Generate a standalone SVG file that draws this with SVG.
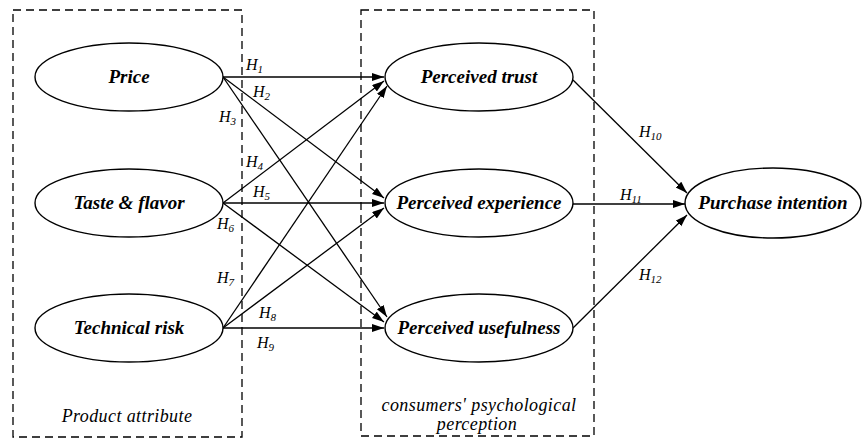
<svg xmlns="http://www.w3.org/2000/svg" width="863" height="439" viewBox="0 0 863 439">
<style>
.box{fill:none;stroke:#000;stroke-width:1.3;stroke-dasharray:8,5}
.node{fill:#fff;stroke:#000;stroke-width:1.4}
.nl{font-family:"Liberation Serif","Times New Roman",Times,"DejaVu Serif",serif;font-style:italic;font-weight:bold;font-size:19px;text-anchor:middle;fill:#000}
.gl{font-family:"Liberation Serif","Times New Roman",Times,"DejaVu Serif",serif;font-style:italic;font-size:18px;text-anchor:middle;fill:#000;letter-spacing:0.4px}
.hl{font-family:"Liberation Serif","Times New Roman",Times,"DejaVu Serif",serif;font-style:italic;font-size:16px;fill:#000}
.hl tspan{font-size:11px}
.edge{stroke:#000;stroke-width:1.3;fill:none;marker-end:url(#arr)}
</style>
<defs>
<marker id="arr" markerUnits="userSpaceOnUse" markerWidth="13" markerHeight="9" refX="12" refY="4" orient="auto">
<path d="M0,0 L12,4 L0,8 z" fill="#000"/>
</marker>
</defs>
<rect width="863" height="439" fill="#fff"/>
<g id="group-product">
<rect class="box" x="13" y="10" width="229" height="427"/>
<text class="gl" x="127" y="422">Product attribute</text>
</g>
<g id="group-perception">
<rect class="box" x="361" y="10" width="233" height="426"/>
<text class="gl" x="479" y="411">consumers' psychological</text>
<text class="gl" x="477" y="430">perception</text>
</g>
<g id="connectors">
<line class="edge" x1="223" y1="77" x2="384" y2="77"/>
<line class="edge" x1="223" y1="77" x2="384" y2="198"/>
<line class="edge" x1="223" y1="77" x2="387" y2="317"/>
<line class="edge" x1="223" y1="203" x2="384" y2="81"/>
<line class="edge" x1="223" y1="203" x2="384" y2="203"/>
<line class="edge" x1="223" y1="203" x2="384" y2="322"/>
<line class="edge" x1="223" y1="328" x2="387" y2="86"/>
<line class="edge" x1="223" y1="328" x2="384" y2="208"/>
<line class="edge" x1="223" y1="328" x2="384" y2="328"/>
<line class="edge" x1="573" y1="80" x2="687" y2="193"/>
<line class="edge" x1="573" y1="204" x2="685" y2="204"/>
<line class="edge" x1="573" y1="328" x2="687" y2="215"/>
<text class="hl" x="246" y="70">H<tspan dy="3">1</tspan></text>
<text class="hl" x="253" y="97">H<tspan dy="3">2</tspan></text>
<text class="hl" x="219" y="122">H<tspan dy="3">3</tspan></text>
<text class="hl" x="246" y="167">H<tspan dy="3">4</tspan></text>
<text class="hl" x="253" y="197">H<tspan dy="3">5</tspan></text>
<text class="hl" x="217" y="229">H<tspan dy="3">6</tspan></text>
<text class="hl" x="217" y="283">H<tspan dy="3">7</tspan></text>
<text class="hl" x="259" y="318">H<tspan dy="3">8</tspan></text>
<text class="hl" x="257" y="348">H<tspan dy="3">9</tspan></text>
<text class="hl" x="639" y="137">H<tspan dy="3">10</tspan></text>
<text class="hl" x="620" y="200">H<tspan dy="3">11</tspan></text>
<text class="hl" x="639" y="280">H<tspan dy="3">12</tspan></text>
</g>
<g id="node-price">
<ellipse class="node" cx="129" cy="77" rx="94" ry="34"/>
<text class="nl" x="129" y="83">Price</text>
</g>
<g id="node-taste">
<ellipse class="node" cx="129" cy="203" rx="94" ry="34"/>
<text class="nl" x="129" y="209">Taste &amp; flavor</text>
</g>
<g id="node-risk">
<ellipse class="node" cx="129" cy="328" rx="94" ry="34"/>
<text class="nl" x="129" y="334">Technical risk</text>
</g>
<g id="node-trust">
<ellipse class="node" cx="479" cy="77" rx="94" ry="34"/>
<text class="nl" x="479" y="83">Perceived trust</text>
</g>
<g id="node-experience">
<ellipse class="node" cx="479" cy="203" rx="94" ry="34"/>
<text class="nl" x="479" y="209">Perceived experience</text>
</g>
<g id="node-usefulness">
<ellipse class="node" cx="479" cy="328" rx="94" ry="34"/>
<text class="nl" x="479" y="334">Perceived usefulness</text>
</g>
<g id="node-purchase">
<ellipse class="node" cx="773" cy="203" rx="88" ry="35"/>
<text class="nl" x="773" y="209">Purchase intention</text>
</g>
</svg>
